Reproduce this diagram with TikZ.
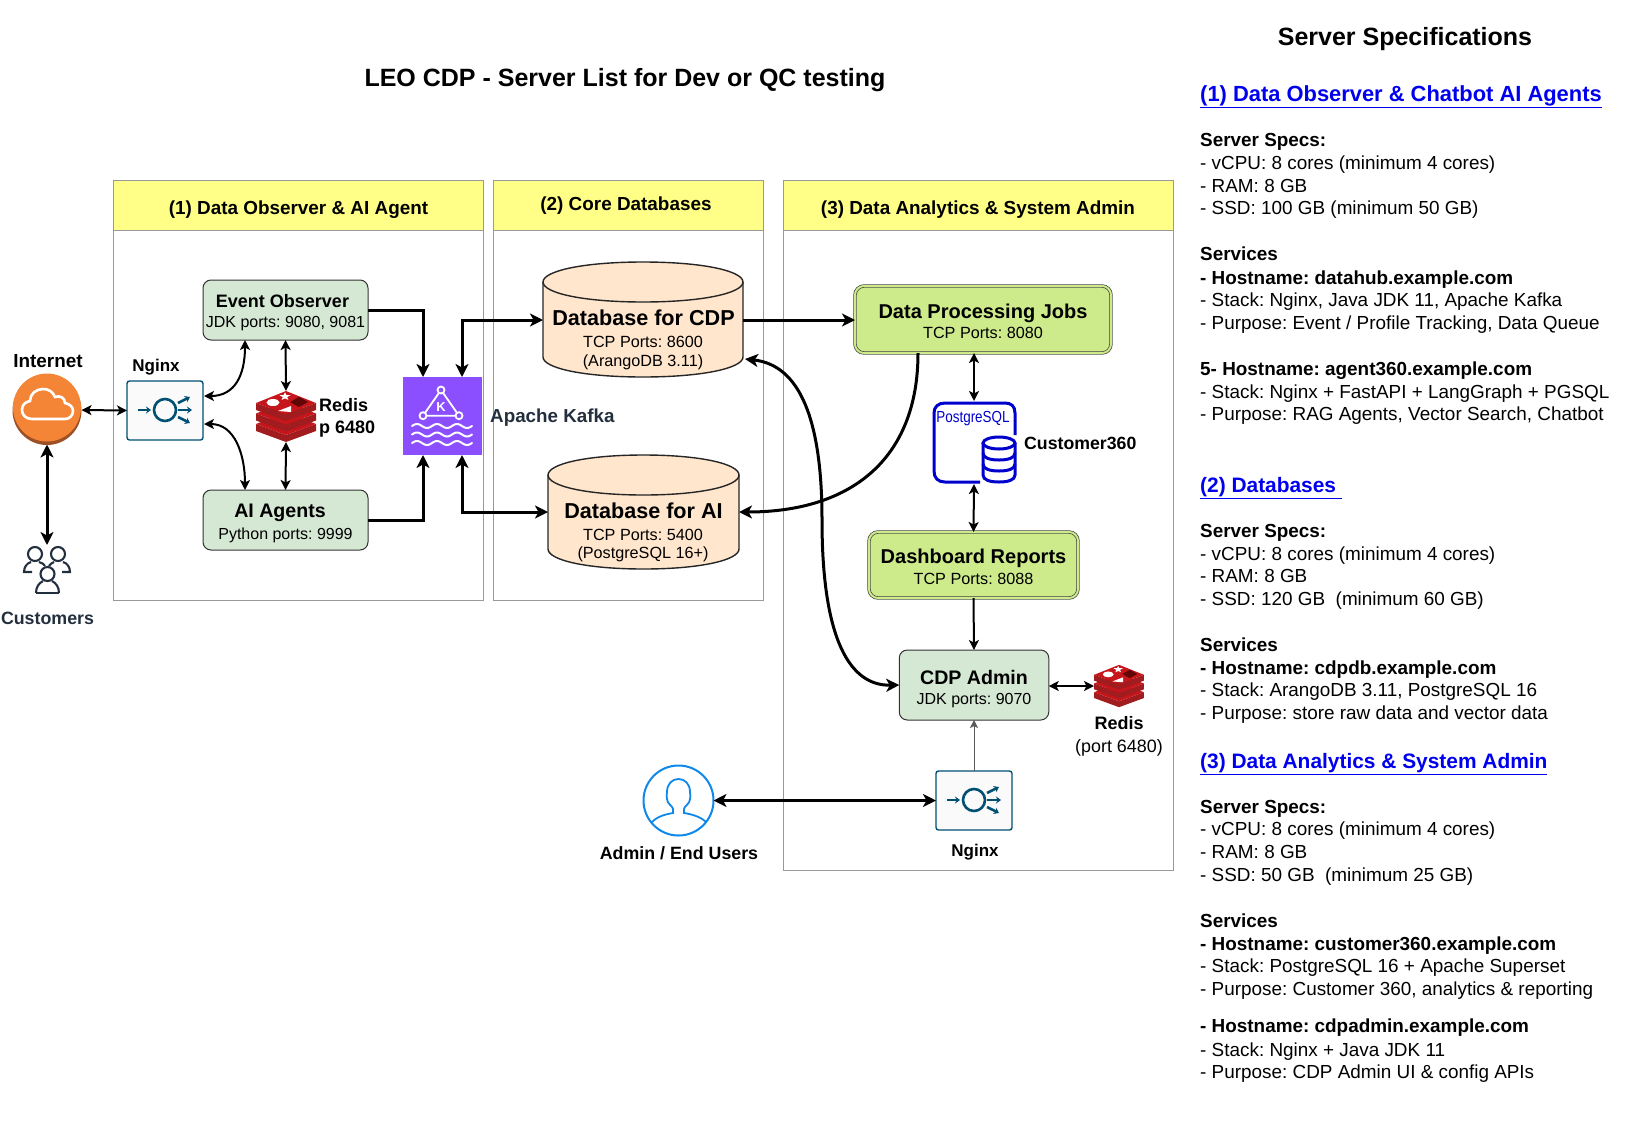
\documentclass[tikz,border=0pt]{standalone}
\usepackage{fontspec}
\setmainfont{Liberation Sans}
\usetikzlibrary{arrows.meta,calc}
\frenchspacing
\definecolor{hdr}{HTML}{FFFF88}
\definecolor{frm}{HTML}{999999}
\definecolor{grn}{HTML}{D5E8D4}
\definecolor{lime}{HTML}{CDEB8B}
\definecolor{dbf}{HTML}{FFE6CC}
\definecolor{navy}{HTML}{232F3E}
\definecolor{ngx}{HTML}{005073}
\definecolor{pgb}{HTML}{0000CC}
\definecolor{lnk}{HTML}{0000EE}
\definecolor{kfk}{HTML}{8C4FFF}
\definecolor{org}{HTML}{F58536}
\definecolor{orgd}{HTML}{9D5025}
\definecolor{usr}{HTML}{0F88EB}
\newcommand{\fsz}[1]{\fontsize{#1}{#1}\selectfont}
\newcount\speccnt
\newcommand{\specline}[2]{\global\advance\speccnt by 1
  \node[specline] (spec\the\speccnt) at (1200,#1) {#2};}
\newcommand{\nginxicon}[2]{\begin{scope}[shift={(#1,#2)},draw=ngx,fill=ngx,line width=2.6]
  \draw (0,0) circle (11);
  \draw[-{Stealth[length=5pt,width=7pt]}] (-27,0) -- (-14,0);
  \draw[-{Stealth[length=5pt,width=7pt]}] (13,0) -- (27,0);
  \draw[-{Stealth[length=5pt,width=7pt]}] (13,-7) -- (25,-13);
  \draw[-{Stealth[length=5pt,width=7pt]}] (13,7) -- (25,13);
\end{scope}}
\newcommand{\redislayer}[1]{%
  \fill[fill=rside] (-30,{-13.5+#1}) -- (0,{-2.5+#1}) -- (30,{-13.5+#1}) -- (30,{-6.5+#1}) -- (0,{4.5+#1}) -- (-30,{-6.5+#1}) -- cycle;
  \fill[fill=rtop] (-30,{-13.5+#1}) -- (0,{-25.5+#1}) -- (30,{-13.5+#1}) -- (0,{-2.5+#1}) -- cycle;}
\definecolor{rside}{HTML}{A01C1E}
\definecolor{rtop}{HTML}{C6161C}
\newcommand{\redisicon}[3]{\begin{scope}[shift={(#1,#2)},scale=#3]
  \redislayer{21}\redislayer{10.5}\redislayer{0}
  \fill[white] (-13,-14) ellipse (6.5 and 3.5);
  \fill[white,shift={(-1,-20)}] (0,-4.2) -- (1.4,-1.5) -- (5.6,-1.4) -- (2.2,.6) -- (3.4,3.4) -- (0,1.9) -- (-3.4,3.4) -- (-2.2,.6) -- (-5.6,-1.4) -- (-1.4,-1.5) -- cycle;
  \fill[white] (-8,-5.5) -- (5,-10.5) -- (5,-4.5) -- cycle;
  \fill[fill=red!30!black!75!rside] (13,-19.5) -- (22,-14.5) -- (13,-9.5) -- (4,-14.5) -- cycle;
\end{scope}}
\newcommand{\cyl}[4]{% left right top bottom
  \draw[fill=dbf,line width=1.4,draw=black!85] (#1,{#3+20})
     .. controls (#1,{#3+9}) and ({#1+(#2-#1)*.2},#3) .. ({(#1+#2)/2},#3)
     .. controls ({#2-(#2-#1)*.2},#3) and (#2,{#3+9}) .. (#2,{#3+20})
     -- (#2,{#4-20})
     .. controls (#2,{#4-9}) and ({#2-(#2-#1)*.2},#4) .. ({(#1+#2)/2},#4)
     .. controls ({#1+(#2-#1)*.2},#4) and (#1,{#4-9}) .. (#1,{#4-20}) -- cycle;
  \draw[line width=1.4,draw=black!85] (#1,{#3+20})
     .. controls (#1,{#3+31}) and ({#1+(#2-#1)*.2},{#3+40}) .. ({(#1+#2)/2},{#3+40})
     .. controls ({#2-(#2-#1)*.2},{#3+40}) and (#2,{#3+31}) .. (#2,{#3+20});}
\newcommand{\wave}[1]{\draw[white,line width=2,line cap=round] plot[smooth,domain=0:60,samples=61] ({412+\x},{#1-2*sin(18*\x)});}
\tikzset{
  framebox/.style={draw=frm,line width=.9},
  hdrbox/.style={draw=frm,fill=hdr,line width=.9,inner sep=0,outer sep=0,font=\fsz{18.9}\bfseries},
  grnbox/.style={draw=black!80,fill=grn,rounded corners=8,line width=1,inner sep=0,outer sep=0,align=center},
  limebox/.style={draw=black!75,double=lime,double distance=2,line width=.7,fill=lime,rounded corners=9,inner sep=0,outer sep=0,align=center},
  icobox/.style={inner sep=0,outer sep=0},
  lbl/.style={inner sep=0,font=\fsz{18}\bfseries,align=center},
  dblbl/.style={inner sep=0,align=center},
  specline/.style={inner sep=0,anchor=base west,font=\fsz{18.9}},
  tip/.style={line width=3,-{Stealth[length=13pt,width=13pt,inset=3.5pt]}},
  tips/.style={line width=3,{Stealth[length=13pt,width=13pt,inset=3.5pt]}-{Stealth[length=13pt,width=13pt,inset=3.5pt]}},
  tp/.style={line width=2,{Stealth[length=10pt,width=10pt,inset=2.5pt]}-{Stealth[length=10pt,width=10pt,inset=2.5pt]}},
  tpone/.style={line width=2,-{Stealth[length=10pt,width=10pt,inset=2.5pt]}},
}
\begin{document}
\begin{tikzpicture}[x=1pt,y=-1pt]
\useasboundingbox (0,0) rectangle (1648,1130);
% frames
\draw[framebox] (113,230) rectangle (483,600);
\draw[framebox] (493,230) rectangle (763,600);
\draw[framebox] (783,230) rectangle (1173,870);
\node[hdrbox,minimum width=370,minimum height=50] (h1) at (298,205) {};
\node[hdrbox,minimum width=270,minimum height=50] (h2) at (628,205) {};
\node[hdrbox,minimum width=390,minimum height=50] (h3) at (978,205) {};
\node[lbl,font=\fsz{18.9}\bfseries] (h1t) at (298.5,209.5) {(1) Data Observer \& AI Agent};
\node[lbl,font=\fsz{18.9}\bfseries] (h2t) at (626,206) {(2) Core Databases};
\node[lbl,font=\fsz{18.9}\bfseries] (h3t) at (978,209.5) {(3) Data Analytics \& System Admin};
\node[lbl,font=\fsz{25}\bfseries] (title) at (625,80) {LEO CDP - Server List for Dev or QC testing};
% internet
\fill[orgd] (47,410.5) circle (34.5);
\begin{scope}
\clip (47,407.5) circle (34);
\fill[org] (12,370) rectangle (82,444);
\end{scope}
\node[icobox,minimum size=69,circle] (inet) at (47,410) {};
\draw[white,line width=2.6] (32,419) .. controls (26,419) and (22,415) .. (22,410) .. controls (22,405) and (25,402) .. (30,401) .. controls (30,394) and (36,389) .. (43,389) .. controls (49,389) and (53,392) .. (55,397) .. controls (60,395) and (65,398) .. (65,403) .. controls (70,404) and (73,407) .. (73,411) .. controls (73,416) and (69,419) .. (65,419) -- cycle;
\node[lbl,font=\fsz{18.9}\bfseries] (inetl) at (48,361) {Internet};
% customers
\node[icobox,minimum width=48,minimum height=50] (cust) at (47,570) {};
\begin{scope}[draw=navy,line width=2.1]
\draw (35,554) circle (7);
\draw (58,554) circle (7);
\draw (47.5,574) circle (7);
\draw (32,572) -- (24,572) .. controls (24,567) and (27,563) .. (31,562);
\draw (39,562) .. controls (42,563) and (44,564) .. (45,566);
\draw (62,572) -- (70,572) .. controls (70,567) and (67,563) .. (63,562);
\draw (54,562) .. controls (52,563) and (50,564) .. (49,566);
\draw (36,593) .. controls (36,587) and (39,583) .. (43,581);
\draw (52,581) .. controls (56,583) and (59,587) .. (59,593);
\draw (36,593) -- (59,593);
\end{scope}
\node[lbl,text=navy,font=\fsz{17.8}\bfseries] (custl) at (47.5,618) {Customers};
% nginx 1
\node[icobox,draw=ngx,fill=black!2,rounded corners=2.5,line width=1.4,minimum width=76,minimum height=59] (nga) at (165,410.5) {};
\nginxicon{165}{410}
\node[lbl,font=\fsz{17}\bfseries] (ngal) at (156,367) {Nginx};
% green boxes
\node[grnbox,minimum width=165,minimum height=60] (eo) at (285.5,310) {\rule{0pt}{18pt}\fsz{18}\bfseries Event Observer\hspace*{6pt}\\[7.5pt]\fsz{16}JDK ports: 9080, 9081};
\node[grnbox,minimum width=165,minimum height=60] (ai) at (285.5,520) {\rule{0pt}{20pt}\fsz{19.6}\bfseries AI Agents\hspace*{11pt}\\[5pt]\fsz{16}Python ports: 9999};
% redis 1
\node[icobox,minimum width=60,minimum height=51] (rda) at (286,416.5) {};
\redisicon{286}{416.5}{1}
\node[inner sep=0,anchor=base west,font=\fsz{18}\bfseries] (rdal1) at (319,411.5) {Redis};
\node[inner sep=0,anchor=base west,font=\fsz{18}\bfseries] (rdal2) at (319,433) {p 6480};
% kafka
\node[icobox,fill=kfk,minimum width=79,minimum height=78] (kafka) at (442.5,416) {};
\draw[white,line width=1.8] (441,390) -- (423,415.7) -- (459,415.7) -- cycle;
\foreach \p in {(441,390),(423,415.7),(459,415.7)} \draw[white,fill=kfk,line width=1.8] \p circle (3.5);
\node[inner sep=0,text=white,font=\fsz{13}\bfseries] (kafkak) at (441,407) {K};
\wave{426}\wave{434.5}\wave{443}
\node[inner sep=0,anchor=west,text=navy,font=\fsz{18.8}\bfseries] (kafkal) at (490,417.5) {Apache Kafka};
% databases
\cyl{543}{743}{262}{377}
\cyl{548}{739}{455}{569}
\node[icobox,minimum width=200,minimum height=115] (dbcdp) at (643,320) {};
\node[icobox,minimum width=191,minimum height=114] (dbai) at (643.5,512) {};
\node[dblbl,font=\fsz{21.6}\bfseries] (dbcdpt) at (643.5,318) {Database for CDP};
\node[dblbl,font=\fsz{16.2}] (dbcdps) at (643,342) {TCP Ports: 8600};
\node[dblbl,font=\fsz{16.2}] (dbcdpv) at (643,362) {(ArangoDB 3.11)};
\node[dblbl,font=\fsz{21.6}\bfseries] (dbait) at (643.5,511) {Database for AI};
\node[dblbl,font=\fsz{16.2}] (dbais) at (643,535) {TCP Ports: 5400};
\node[dblbl,font=\fsz{16.2}] (dbaiv) at (643,554.5) {(PostgreSQL 16+)};
% data proc
\node[limebox,minimum width=256,minimum height=67] (dp) at (983,319.5) {\rule{0pt}{18.5pt}\fsz{20}\bfseries Data Processing Jobs\\[4pt]\fsz{16.2}TCP Ports: 8080};
\node[limebox,minimum width=209,minimum height=66] (dash) at (973.5,565) {\rule{0pt}{18.5pt}\fsz{20}\bfseries Dashboard Reports\\[4pt]\fsz{16.2}TCP Ports: 8088};
% postgres
\node[icobox,minimum width=84,minimum height=83] (pg) at (974,442.5) {};
\begin{scope}[draw=pgb,line width=3]
\draw (1015,435) -- (1015,413) .. controls (1015,406) and (1011,403) .. (1005,403) -- (945,403) .. controls (938,403) and (934,407) .. (934,413) -- (934,471) .. controls (934,478) and (938,482) .. (945,482) -- (980,482);
\draw (983,443) -- (983,475) .. controls (983,480) and (990,482) .. (999,482) .. controls (1008,482) and (1015,480) .. (1015,475) -- (1015,443);
\draw (999,443) ellipse (16 and 6);
\draw (983,453) .. controls (983,458) and (990,460) .. (999,460) .. controls (1008,460) and (1015,458) .. (1015,453);
\draw (983,464) .. controls (983,469) and (990,471) .. (999,471) .. controls (1008,471) and (1015,469) .. (1015,464);
\end{scope}
\node[inner sep=0,text=pgb,font=\fsz{16},xscale=.84] (pgl) at (973,419) {PostgreSQL};
\node[inner sep=0,anchor=west,font=\fsz{17.7}\bfseries] (c360) at (1024,443) {Customer360};
% cdp admin
\node[grnbox,minimum width=149.5,minimum height=70] (adm) at (974,685) {\rule{0pt}{22pt}\fsz{19.6}\bfseries CDP Admin\\[7.5pt]\fsz{16}JDK ports: 9070};
% redis 2
\node[icobox,minimum width=50,minimum height=42] (rdb) at (1119,686) {};
\redisicon{1119}{686}{.83}
\node[lbl,font=\fsz{18}\bfseries] (rdbl) at (1119,723.5) {Redis};
\node[inner sep=0,font=\fsz{17.9}] (rdbp) at (1119,747.5) {(port 6480)};
% nginx 2
\node[icobox,draw=ngx,fill=black!2,rounded corners=2.5,line width=1.4,minimum width=76,minimum height=59] (ngb) at (974,800.5) {};
\nginxicon{974}{800}
\node[lbl,font=\fsz{17}\bfseries] (ngbl) at (975,852) {Nginx};
% user
\node[icobox,circle,draw=usr,fill=white,line width=2,minimum size=70] (user) at (678.5,800.5) {};
\draw[usr,line width=1.8] (651,823) .. controls (657,816) and (667,814) .. (673,813) -- (673,809) .. controls (673,806) and (667,804) .. (667,799) .. controls (667,797) and (666,795) .. (667,792) .. controls (667,784) and (672,779) .. (678.5,779) .. controls (685,779) and (690,784) .. (690,792) .. controls (691,795) and (690,797) .. (690,799) .. controls (690,804) and (684,806) .. (684,809) -- (684,813) .. controls (690,814) and (700,816) .. (706,822);
\node[lbl,font=\fsz{17.8}\bfseries] (userl) at (679,853) {Admin / End Users};
% connectors
\draw[tp] (inet.east) -- (nga.west);
\draw[tips] (inet.south) -- (cust.north);
\draw[tip] (eo.east) -| ([xshift=20pt]kafka.north west);
\draw[tip] (ai.east) -| ([xshift=20pt]kafka.south west);
\draw[tips] ([xshift=59pt]kafka.north west) |- (dbcdp.west);
\draw[tips] ([xshift=59pt]kafka.south west) |- (dbai.west);
\draw[tp] ([yshift=14.5pt,xshift=1pt]nga.east) .. controls (235,396) and ([xshift=-40.5pt,yshift=-35pt]eo.south) .. ([xshift=-40.5pt]eo.south);
\draw[tp] ([yshift=-13.5pt,xshift=1pt]nga.east) .. controls (235,424) and ([xshift=-40.5pt,yshift=35pt]ai.north) .. ([xshift=-40.5pt]ai.north);
\draw[tp] (eo.south) -- (rda.north);
\draw[tp] (rda.south) -- (ai.north);
\draw[tip] (dbcdp.east) -- (dbcdp.east -| dp.west);
\draw[tp] ([xshift=-9pt]dp.south) -- (pg.north);
\draw[tp] (pg.south) -- (dash.north);
\draw[tpone] (dash.south) -- (adm.north);
\draw[line width=1,draw=black!65,-{Stealth[length=8pt,width=8pt,inset=2pt]}] (ngb.north) -- (adm.south);
\draw[tp] (adm.east |- rdb.west) -- (rdb.west);
\draw[tips] (user.east) -- (ngb.west);
\draw[tip] ([xshift=-65pt]dp.south) .. controls (918,460) and (850,512) .. (dbai.east);
\draw[tips] ([xshift=2pt,yshift=-39pt]dbcdp.east) .. controls (800,365) and (822,420) .. (822,520) .. controls (822,640) and (850,686) .. (adm.west);
% right column
\node[lbl,font=\fsz{25}\bfseries] (spect) at (1405,39) {Server Specifications};
\newcommand{\hl}[3]{\specline{#1}{\fsz{#3}\bfseries\color{lnk}\underline{#2}}}
\newcommand{\bl}[2]{\specline{#1}{\bfseries #2}}
\hl{101}{(1) Data Observer \& Chatbot AI Agents}{21.9}
\bl{146.5}{Server Specs:}
\specline{169.5}{- vCPU: 8 cores (minimum 4 cores)}
\specline{192}{- RAM: 8 GB}
\specline{214.5}{- SSD: 100 GB (minimum 50 GB)}
\bl{260.5}{Services}
\bl{284}{- Hostname: datahub.example.com}
\specline{306}{- Stack: Nginx, Java JDK 11, Apache Kafka}
\specline{329}{- Purpose: Event / Profile Tracking, Data Queue}
\bl{375.5}{5- Hostname: agent360.example.com}
\specline{398}{- Stack: Nginx + FastAPI + LangGraph + PGSQL}
\specline{420}{- Purpose: RAG Agents, Vector Search, Chatbot}
\hl{492.5}{(2) Databases\ }{20.9}
\bl{537.5}{Server Specs:}
\specline{560}{- vCPU: 8 cores (minimum 4 cores)}
\specline{582.5}{- RAM: 8 GB}
\specline{605}{- SSD: 120 GB\ \ (minimum 60 GB)}
\bl{651}{Services}
\bl{674}{- Hostname: cdpdb.example.com}
\specline{696.5}{- Stack: ArangoDB 3.11, PostgreSQL 16}
\specline{719}{- Purpose: store raw data and vector data}
\hl{768.5}{(3) Data Analytics \& System Admin}{20.9}
\bl{813.5}{Server Specs:}
\specline{835.5}{- vCPU: 8 cores (minimum 4 cores)}
\specline{858}{- RAM: 8 GB}
\specline{881}{- SSD: 50 GB\ \ (minimum 25 GB)}
\bl{927}{Services}
\bl{950}{- Hostname: customer360.example.com}
\specline{972}{- Stack: PostgreSQL 16 + Apache Superset}
\specline{995}{- Purpose: Customer 360, analytics \& reporting}
\bl{1032.5}{- Hostname: cdpadmin.example.com}
\specline{1056}{- Stack: Nginx + Java JDK 11}
\specline{1078}{- Purpose: CDP Admin UI \& config APIs}
\end{tikzpicture}
\end{document}
